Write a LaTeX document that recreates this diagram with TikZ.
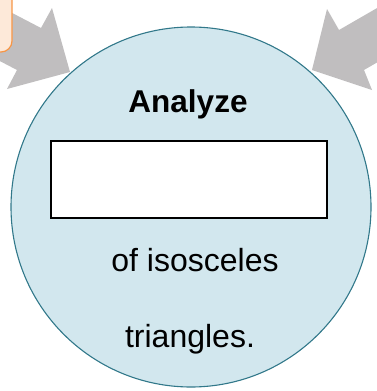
\documentclass[tikz,border=0pt]{standalone}
\usepackage{fontspec}
\setmainfont{Liberation Sans}
\definecolor{arrowgray}{HTML}{C0BEBF}
\definecolor{discfill}{HTML}{D2E7EE}
\definecolor{discline}{HTML}{31788A}
\definecolor{peachfill}{HTML}{FDE9D9}
\definecolor{peachline}{HTML}{F79646}
\begin{document}
\begin{tikzpicture}[x=1pt,y=-1pt,
  disc/.style={circle,draw=discline,fill=discfill,line width=1.1pt,minimum size=360pt,inner sep=0pt},
  blank/.style={draw=black,fill=white,line width=1.6pt,minimum width=276pt,minimum height=77pt,inner sep=0pt},
  word/.style={anchor=base,inner sep=0pt,font=\fontsize{32}{38}\selectfont}]
\useasboundingbox (0,0) rectangle (377,391);
\clip (0,0) rectangle (377,391);
% block arrows
\fill[arrowgray] (70,72) -- (52,8) -- (41,28) -- (-30,-9) -- (-54,33) -- (17,70) -- (7,89) -- cycle;
\fill[arrowgray] (312,70) -- (327,9) -- (339,30) -- (391,0) -- (416,40) -- (364,70) -- (372,90) -- cycle;
% box at top left
\draw[draw=peachline,fill=peachfill,line width=1.2pt,rounded corners=11pt] (-40,-40) rectangle (12,52);
% the disc
\node[disc] (disc) at (191,207) {};
\node[blank] (blank) at (189,179.5) {};
\node[word,font=\bfseries\fontsize{31.5}{38}\selectfont] (analyze) at (188,112) {Analyze};
\node[word] (iso) at (195,271) {of isosceles};
\node[word] (tri) at (190,347) {triangles.};
\end{tikzpicture}
\end{document}
